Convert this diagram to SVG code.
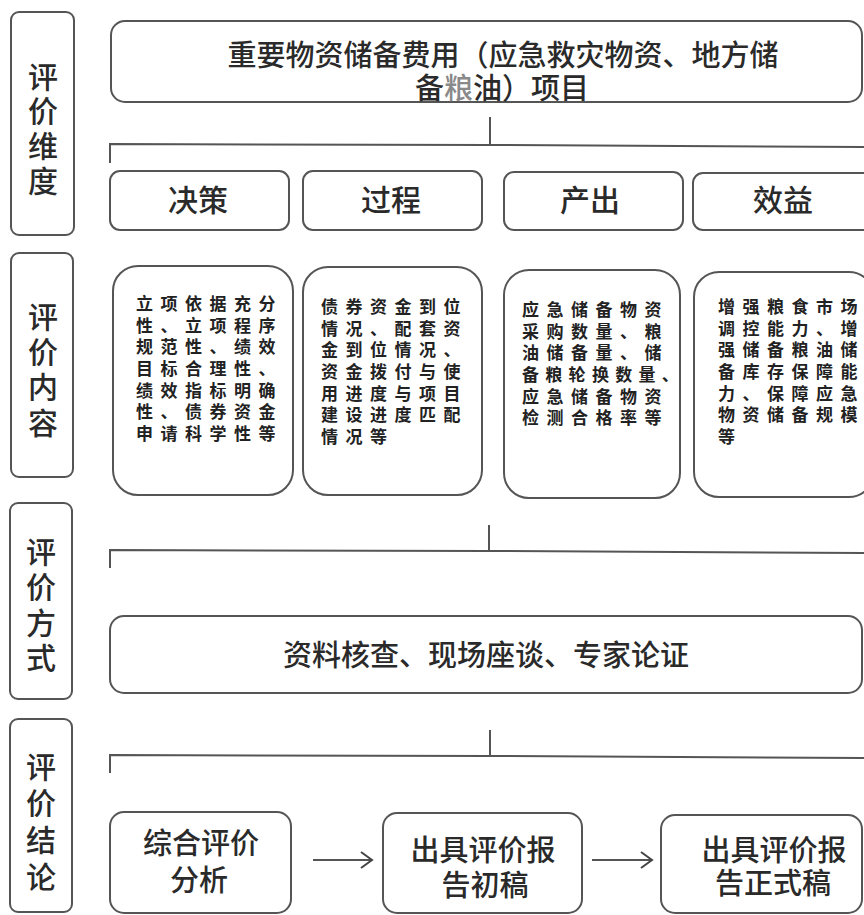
<svg xmlns="http://www.w3.org/2000/svg" width="864" height="915" viewBox="0 0 864 915">
<defs>
<style>
.bx{fill:#fff;stroke:#555;stroke-width:2}
.ln{fill:none;stroke:#555;stroke-width:2}
.hd{font-family:"Liberation Sans","Noto Sans CJK SC",sans-serif;font-size:30px;fill:#2a2a2a;text-anchor:middle;font-weight:500}
.tt{font-family:"Liberation Sans","Noto Sans CJK SC",sans-serif;font-size:29px;fill:#2a2a2a;text-anchor:middle;font-weight:500}
.ct{font-family:"Liberation Sans","Noto Sans CJK SC",sans-serif;font-size:17px;fill:#222;font-weight:bold;letter-spacing:7.5px}
</style>
<marker id="ah" markerUnits="userSpaceOnUse" markerWidth="16" markerHeight="20" refX="12" refY="9" orient="auto">
<path d="M1,1 L12,9 L1,17" fill="none" stroke="#444" stroke-width="2"/>
</marker>
</defs>
<rect width="864" height="915" fill="#fff"/>

<g id="side-dim"><rect class="bx" x="11" y="12" width="63" height="223" rx="8"/>
<text class="hd"><tspan x="43" y="88">评</tspan><tspan x="43" y="122">价</tspan><tspan x="43" y="157">维</tspan><tspan x="43" y="192">度</tspan></text></g>
<g id="side-content"><rect class="bx" x="11" y="253" width="62" height="224" rx="8"/>
<text class="hd"><tspan x="43" y="328">评</tspan><tspan x="43" y="363">价</tspan><tspan x="43" y="398">内</tspan><tspan x="43" y="434">容</tspan></text></g>
<g id="side-method"><rect class="bx" x="10" y="503" width="62" height="196" rx="8"/>
<text class="hd"><tspan x="41" y="563">评</tspan><tspan x="41" y="598">价</tspan><tspan x="41" y="634">方</tspan><tspan x="41" y="669">式</tspan></text></g>
<g id="side-conclusion"><rect class="bx" x="10" y="719" width="62" height="193" rx="8"/>
<text class="hd"><tspan x="41" y="778">评</tspan><tspan x="41" y="814">价</tspan><tspan x="41" y="851">结</tspan><tspan x="41" y="888">论</tspan></text></g>

<g id="title"><rect class="bx" x="111" y="21" width="751" height="81" rx="14"/>
<text class="tt"><tspan x="503" y="66">重要物资储备费用（应急救灾物资、地方储</tspan><tspan x="502" y="99">备<tspan fill="#8a8a8a">粮</tspan>油）项目</tspan></text></g>

<g id="connectors">
<path class="ln" d="M490,117 V145 M110,163 V144 L490,145 L864,147"/>
<path class="ln" d="M489,525 V551 M110,568 V550 L489,551 L864,553"/>
<path class="ln" d="M490,730 V756 M110,773 V755 L490,756 L864,758"/>
<line class="ln" x1="313" y1="860" x2="372" y2="860" stroke="#444" marker-end="url(#ah)"/>
<line class="ln" x1="592" y1="860" x2="652" y2="860" stroke="#444" marker-end="url(#ah)"/>
</g>

<g id="dim-decision"><rect class="bx" x="110" y="171" width="179" height="59" rx="10"/><text class="hd" x="198" y="211">决策</text></g>
<g id="dim-process"><rect class="bx" x="303" y="171" width="179" height="59" rx="10"/><text class="hd" x="391" y="211">过程</text></g>
<g id="dim-output"><rect class="bx" x="504" y="172" width="179" height="58" rx="10"/><text class="hd" x="590" y="211">产出</text></g>
<g id="dim-benefit"><rect class="bx" x="693" y="173" width="180" height="57" rx="10"/><text class="hd" x="783" y="211">效益</text></g>

<g id="content-decision"><rect class="bx" x="113" y="266" width="180" height="229" rx="25"/>
<text class="ct"><tspan x="136" y="310">立项依据充分</tspan><tspan x="136" y="332">性、立项程序</tspan><tspan x="136" y="353">规范性、绩效</tspan><tspan x="136" y="375">目标合理性、</tspan><tspan x="136" y="397">绩效指标明确</tspan><tspan x="136" y="418">性、债券资金</tspan><tspan x="136" y="440">申请科学性等</tspan></text></g>

<g id="content-process"><rect class="bx" x="303" y="267" width="179" height="228" rx="25"/>
<text class="ct"><tspan x="321" y="313">债券资金到位</tspan><tspan x="321" y="335">情况、配套资</tspan><tspan x="321" y="356">金到位情况、</tspan><tspan x="321" y="378">资金拨付与使</tspan><tspan x="321" y="400">用进度与项目</tspan><tspan x="321" y="421">建设进度匹配</tspan><tspan x="321" y="443">情况等</tspan></text></g>

<g id="content-output"><rect class="bx" x="504" y="270" width="176" height="228" rx="25"/>
<text class="ct"><tspan x="522" y="316">应急储备物资</tspan><tspan x="522" y="338">采购数量、粮</tspan><tspan x="522" y="359">油储备量、储</tspan><tspan x="522" y="381" letter-spacing="6.3">备粮轮换数量、</tspan><tspan x="522" y="403">应急储备物资</tspan><tspan x="522" y="424">检测合格率等</tspan></text></g>

<g id="content-benefit"><rect class="bx" x="694" y="272" width="180" height="225" rx="25"/>
<text class="ct"><tspan x="718" y="313">增强粮食市场</tspan><tspan x="718" y="335">调控能力、增</tspan><tspan x="718" y="356">强储备粮油储</tspan><tspan x="718" y="378">备库存保障能</tspan><tspan x="718" y="400">力、保障应急</tspan><tspan x="718" y="421">物资储备规模</tspan><tspan x="718" y="443">等</tspan></text></g>

<g id="method"><rect class="bx" x="110" y="616" width="752" height="77" rx="14"/>
<text class="tt" x="486" y="666">资料核查、现场座谈、专家论证</text></g>

<g id="step-analysis"><rect class="bx" x="110" y="812" width="181" height="101" rx="14"/>
<text class="tt"><tspan x="201" y="854">综合评价</tspan><tspan x="199" y="891">分析</tspan></text></g>
<g id="step-draft"><rect class="bx" x="383" y="813" width="199" height="100" rx="14"/>
<text class="tt"><tspan x="483" y="861">出具评价报</tspan><tspan x="485" y="896">告初稿</tspan></text></g>
<g id="step-final"><rect class="bx" x="661" y="815" width="201" height="98" rx="14"/>
<text class="tt"><tspan x="774" y="861">出具评价报</tspan><tspan x="773" y="894">告正式稿</tspan></text></g>
</svg>
